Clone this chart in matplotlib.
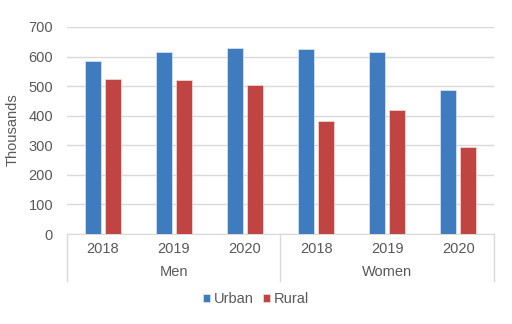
import matplotlib
matplotlib.use("Agg")
import matplotlib.pyplot as plt
import numpy as np

groups = ["Men", "Women"]
years = ["2018", "2019", "2020"]
urban = [584, 617, 630, 625, 614, 486]
rural = [523, 520, 505, 382, 419, 295]
series = ["Urban", "Rural"]
colors = ["#3F7BBF", "#BF4442"]

plt.rcParams["font.family"] = ["Liberation Sans", "DejaVu Sans"]
txt = "#595959"

W, H = 512, 324
fig = plt.figure(figsize=(W / 100, H / 100), dpi=100)
l, r, t, b = 67, 494, 27, 234
ax = fig.add_axes([l / W, 1 - b / H, (r - l) / W, (b - t) / H])

x = np.arange(len(urban))
bw = 0.225
off = 0.14
ax.bar(x - off, urban, bw, color=colors[0], edgecolor="#dfe6ef", linewidth=0.5, label=series[0], zorder=3)
ax.bar(x + off, rural, bw, color=colors[1], edgecolor="#efdede", linewidth=0.5, label=series[1], zorder=3)

ax.set_xlim(-0.5, len(urban) - 0.5)
ax.set_ylim(0, 700)
ax.set_yticks(range(0, 701, 100))
ax.yaxis.grid(True, color="#d9d9d9", linewidth=1)
ax.set_axisbelow(True)
for s in ["top", "right", "left"]:
    ax.spines[s].set_visible(False)
ax.spines["bottom"].set_color("#d9d9d9")
ax.tick_params(axis="y", length=0, labelsize=10.5, labelcolor=txt, pad=10)
ax.tick_params(axis="x", length=0, labelbottom=False)
fig.text(12.5 / W, 1 - 130 / H, "Thousands", rotation=90, ha="center", va="center",
         fontsize=10.5, color=txt)

yl = -0.072
yg = -0.184
ybot = -0.227
for i in range(len(urban)):
    ax.text(i, yl, years[i % 3], transform=ax.get_xaxis_transform(), ha="center", va="center",
            fontsize=10.5, color=txt)
for g, name in enumerate(groups):
    ax.text(g * 3 + 1, yg, name, transform=ax.get_xaxis_transform(), ha="center", va="center",
            fontsize=10.5, color=txt)
for xs in [-0.5, 2.5, 5.5]:
    ax.plot([xs, xs], [0, ybot], transform=ax.get_xaxis_transform(), color="#d9d9d9",
            linewidth=1, clip_on=False)

handles, labels = ax.get_legend_handles_labels()
fig.legend(handles, labels, loc="center", bbox_to_anchor=(256 / W, 1 - 299 / H), ncol=2,
           frameon=False, fontsize=10.5, handlelength=0.5, handleheight=0.5, handletextpad=0.25,
           columnspacing=0.6, labelcolor=txt)

fig.savefig("out.png", dpi=100)
